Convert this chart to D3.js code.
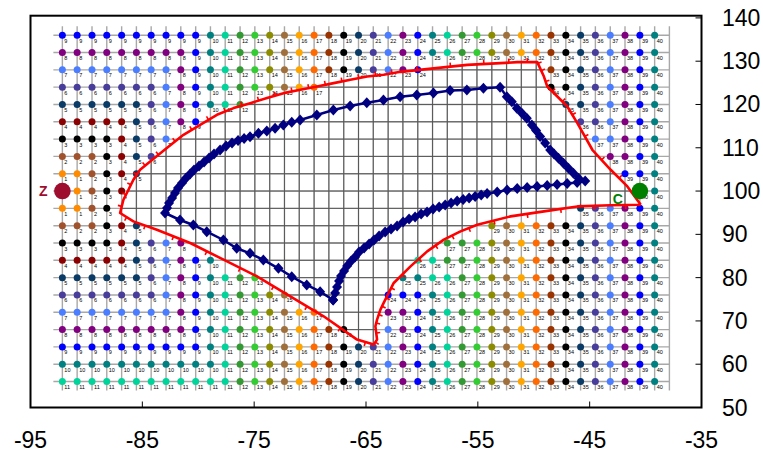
<!DOCTYPE html>
<html>
<head>
<meta charset="utf-8">
<script src="https://cdn.jsdelivr.net/npm/d3@7"></script>
<style>
  body { margin: 0; background: #fff; }
  svg { display: block; }
  text { font-family: "Liberation Sans", Arial, sans-serif; }
</style>
</head>
<body>
<div id="chart"></div>
<script>
const width = 763;
const height = 455;

const xTicks = [-95, -85, -75, -65, -55, -45, -35];
const yTicks = [50, 60, 70, 80, 90, 100, 110, 120, 130, 140];

// grid columns (lon) and rows (lat) of the labelled points
const gridLons = [-92.15, -90.83, -89.50, -88.18, -86.85, -85.53, -84.21, -82.88, -81.56, -80.23,
  -78.91, -77.59, -76.26, -74.94, -73.61, -72.29, -70.97, -69.64, -68.32, -66.99,
  -65.67, -64.35, -63.02, -61.70, -60.37, -59.05, -57.73, -56.40, -55.08, -53.75,
  -52.43, -51.11, -49.78, -48.46, -47.13, -45.81, -44.49, -43.16, -41.84, -40.51, -39.19];
const gridLineLons = gridLons.concat([-37.87]);
const gridLats = [136, 132, 128, 124, 120, 116, 112, 108, 104, 100, 96, 92, 88, 84, 80, 76, 72, 68, 64, 60, 56];

// label of every point, one string per row, "." = no point
const labelRows = [
  "9 9 9 9 9 9 9 9 9 9 10 11 12 13 14 15 16 17 18 19 20 21 22 23 24 25 26 27 28 29 30 31 32 33 34 35 36 37 38 39 40",
  "8 8 8 8 8 8 8 8 8 9 10 11 12 13 14 15 16 17 18 19 20 21 22 23 24 25 26 27 28 29 30 31 32 33 34 35 36 37 38 39 40",
  "7 7 7 7 7 7 7 7 8 9 10 11 12 13 14 15 16 17 18 19 20 21 22 23 24 . . . . . . . . 33 34 35 36 37 38 39 40",
  "6 6 6 6 6 6 6 7 8 9 10 11 12 13 14 15 16 17 . . . . . . . . . . . . . . . 34 34 35 36 37 38 39 40",
  "5 5 5 5 5 5 6 7 8 9 10 11 12 . . . . . . . . . . . . . . . . . . . . . 35 35 36 37 38 39 40",
  "4 4 4 4 4 5 6 7 8 9 . . . . . . . . . . . . . . . . . . . . . . . . . 36 36 37 38 39 40",
  "3 3 3 3 4 5 6 7 . . . . . . . . . . . . . . . . . . . . . . . . . . . . 37 37 38 39 40",
  "2 2 2 3 4 5 6 . . . . . . . . . . . . . . . . . . . . . . . . . . . . . . 38 38 39 40",
  "1 1 2 3 4 5 . . . . . . . . . . . . . . . . . . . . . . . . . . . . . . . . 39 39 40",
  ". 1 2 3 4 . . . . . . . . . . . . . . . . . . . . . . . . . . . . . . . . . . 40 40",
  "1 1 2 3 . . . . . . . . . . . . . . . . . . . . . . . . . . . . . . . 35 36 37 38 39 40",
  "2 2 2 3 4 5 . . . . . . . . . . . . . . . . . . . . . . . 29 30 31 32 33 34 35 36 37 38 39 40",
  "3 3 3 3 4 5 6 7 8 . . . . . . . . . . . . . . . . . 27 27 28 29 30 31 32 33 34 35 36 37 38 39 40",
  "4 4 4 4 4 5 6 7 8 9 10 . . . . . . . . . . . . . 26 26 27 27 28 29 30 31 32 33 34 35 36 37 38 39 40",
  "5 5 5 5 5 5 6 7 8 9 10 11 12 13 . . . . . . . . . 25 25 26 26 27 28 29 30 31 32 33 34 35 36 37 38 39 40",
  "6 6 6 6 6 6 6 7 8 9 10 11 12 13 14 15 . . . . . . 24 24 24 25 26 27 28 29 30 31 32 33 34 35 36 37 38 39 40",
  "7 7 7 7 7 7 7 7 8 9 10 11 12 13 14 15 16 17 . . . . 23 23 24 25 26 27 28 29 30 31 32 33 34 35 36 37 38 39 40",
  "8 8 8 8 8 8 8 8 8 9 10 11 12 13 14 15 16 17 18 19 . . 22 23 24 25 26 27 28 29 30 31 32 33 34 35 36 37 38 39 40",
  "9 9 9 9 9 9 9 9 9 9 10 11 12 13 14 15 16 17 18 19 20 21 22 23 24 25 26 27 28 29 30 31 32 33 34 35 36 37 38 39 40",
  "10 10 10 10 10 10 10 10 10 10 10 11 12 13 14 15 16 17 18 19 20 21 22 23 24 25 26 27 28 29 30 31 32 33 34 35 36 37 38 39 40",
  "11 11 11 11 11 11 11 11 11 11 11 11 12 13 14 15 16 17 18 19 20 21 22 23 24 25 26 27 28 29 30 31 32 33 34 35 36 37 38 39 40"
];

// colour of each label value (index = label)
const labelColors = ["#ffffff",
  "#ff8c00", "#a0522d", "#000000", "#8b0000", "#0a3a66", "#483d9b", "#4a7dff", "#800080", "#0000ff", "#008080",
  "#00d49a", "#339933", "#33cc33", "#8c8c00", "#a0703c", "#ffa500", "#ff6a00", "#993300", "#000000", "#0a3a66",
  "#483d9b", "#4a7dff", "#800080", "#0000ff", "#008080", "#00d49a", "#339933", "#33cc33", "#8c8c00", "#a0703c",
  "#ffa500", "#ff6a00", "#993300", "#000000", "#0a3a66", "#483d9b", "#4a7dff", "#800080", "#0000ff", "#008080"];

const zPoint = [-92.15, 100];
const cPoint = [-40.51, 100];

const redBoundary = [
  [-40.43, 96.84], [-41.63, 101.07], [-43.12, 104.92], [-44.76, 109.54], [-46.10, 115.70],
  [-47.00, 119.53], [-47.89, 121.84], [-48.79, 124.15], [-49.09, 126.45], [-49.57, 129.15],
  [-49.68, 129.78], [-51.47, 129.78], [-52.97, 129.55], [-55.95, 129.15], [-58.94, 128.35],
  [-61.92, 127.54], [-63.42, 126.85], [-64.90, 126.45], [-66.40, 125.69], [-67.89, 124.93],
  [-69.38, 124.15], [-70.87, 123.38], [-72.37, 122.62], [-73.85, 121.47], [-75.35, 120.31],
  [-76.84, 119.16], [-78.33, 117.61], [-79.83, 115.31], [-81.32, 113.00], [-82.81, 109.93],
  [-84.30, 106.84], [-85.20, 104.92], [-85.80, 102.61], [-86.24, 100.30], [-86.69, 98.00],
  [-86.99, 94.93], [-85.80, 93.00], [-83.70, 91.07], [-80.72, 88.00], [-77.74, 84.15],
  [-74.75, 80.30], [-71.77, 75.68], [-68.79, 71.07], [-65.80, 65.69], [-64.31, 64.53],
  [-64.01, 65.69], [-64.16, 68.76], [-64.01, 70.30], [-63.71, 72.61], [-63.42, 74.16],
  [-62.97, 76.46], [-62.52, 78.77], [-61.02, 82.60], [-59.53, 86.06], [-58.04, 88.77],
  [-56.55, 90.68], [-55.05, 92.23], [-52.07, 94.15], [-49.09, 95.30], [-46.10, 96.45],
  [-43.12, 96.73], [-40.43, 96.84]
];

const bluePath = [
  [-67.94, 74.84], [-67.76, 76.45], [-67.59, 77.84], [-67.41, 79.22], [-67.23, 80.38],
  [-66.96, 81.53], [-66.69, 82.69], [-66.33, 83.84], [-65.98, 84.77], [-65.62, 85.92],
  [-65.17, 86.85], [-64.72, 87.77], [-64.28, 88.70], [-63.83, 89.62], [-63.29, 90.54],
  [-62.76, 91.24], [-62.22, 91.93], [-61.68, 92.85], [-61.15, 93.55], [-60.61, 94.01],
  [-60.07, 94.70], [-59.54, 95.16], [-59.00, 95.86], [-58.46, 96.32], [-57.92, 96.78],
  [-57.39, 97.24], [-56.85, 97.70], [-56.31, 98.05], [-55.78, 98.40], [-55.24, 98.74],
  [-54.70, 99.09], [-54.17, 99.43], [-53.27, 99.78], [-52.38, 100.24], [-51.48, 100.59],
  [-50.59, 100.82], [-49.70, 101.05], [-48.80, 101.28], [-47.91, 101.51], [-47.01, 101.75],
  [-46.12, 101.98], [-45.40, 102.32], [-46.00, 102.95], [-46.45, 104.09], [-46.90, 105.26],
  [-47.34, 106.41], [-47.79, 107.56], [-48.18, 108.56], [-48.53, 109.49], [-48.98, 111.10],
  [-49.43, 112.61], [-49.79, 113.99], [-50.17, 115.26], [-50.62, 116.81], [-51.06, 117.96],
  [-51.51, 119.12], [-51.96, 120.64], [-52.41, 121.80], [-53.01, 123.97], [-54.50, 123.74],
  [-55.98, 123.35], [-57.48, 123.23], [-58.97, 122.65], [-60.46, 122.19], [-61.95, 121.80],
  [-63.44, 121.03], [-64.93, 120.41], [-66.42, 119.65], [-67.92, 118.73], [-69.40, 117.57],
  [-70.89, 116.41], [-71.64, 115.88], [-72.39, 115.26], [-73.13, 114.50], [-73.87, 113.87],
  [-74.62, 113.34], [-75.37, 112.56], [-75.90, 112.14], [-76.44, 111.68], [-76.98, 111.10],
  [-77.51, 110.41], [-78.05, 109.49], [-78.59, 108.56], [-79.03, 107.64], [-79.48, 106.72],
  [-79.93, 105.79], [-80.38, 104.87], [-80.73, 103.94], [-81.09, 103.02], [-81.45, 101.86],
  [-81.81, 100.71], [-82.08, 99.55], [-82.34, 98.40], [-82.61, 97.24], [-82.79, 96.09],
  [-82.97, 94.93], [-81.63, 93.32], [-80.44, 92.16], [-79.24, 90.62], [-77.75, 88.70],
  [-76.56, 86.78], [-75.37, 85.62], [-74.18, 84.08], [-72.83, 82.16], [-71.64, 80.22],
  [-70.30, 78.30], [-69.10, 76.75], [-67.94, 74.84]
];

const svg = d3
  .select("#chart")
  .append("svg")
  .attr("width", width)
  .attr("height", height);

const x = d3.scaleLinear().domain([-95, -35]).range([30.5, 701.5]);
const y = d3.scaleLinear().domain([50, 140]).range([407.5, 17.9]);
const line = d3.line().x((d) => x(d[0])).y((d) => y(d[1]));

// clip for the darker grid inside the red boundary
svg.append("clipPath")
  .attr("id", "inside")
  .append("path")
  .attr("d", line(redBoundary) + "Z");

// grid of thin lines
const gridTop = y(gridLats[0]) - 9;
const gridBottom = y(gridLats[gridLats.length - 1]) + 9;
const gridLeft = x(gridLons[0]) - 9;
const gridRight = x(gridLineLons[gridLineLons.length - 1]);

function drawGrid(g, color, w) {
  g.append("g")
    .selectAll("line")
    .data(gridLineLons)
    .join("line")
    .attr("x1", (d) => x(d))
    .attr("x2", (d) => x(d))
    .attr("y1", gridTop)
    .attr("y2", gridBottom)
    .attr("stroke", color)
    .attr("stroke-width", w);

  g.append("g")
    .selectAll("line")
    .data(gridLats)
    .join("line")
    .attr("x1", gridLeft)
    .attr("x2", gridRight)
    .attr("y1", (d) => y(d))
    .attr("y2", (d) => y(d))
    .attr("stroke", color)
    .attr("stroke-width", w);
}
drawGrid(svg.append("g"), "#a8a8a8", 1.4);
drawGrid(svg.append("g").attr("clip-path", "url(#inside)"), "#505050", 0.9);

// labelled points
const points = [];
labelRows.forEach((row, r) => {
  row.split(" ").forEach((v, c) => {
    if (v !== ".") points.push({ lon: gridLons[c], lat: gridLats[r], label: +v });
  });
});

svg.append("g")
  .selectAll("circle")
  .data(points)
  .join("circle")
  .attr("cx", (d) => x(d.lon))
  .attr("cy", (d) => y(d.lat))
  .attr("r", 3.5)
  .attr("fill", (d) => labelColors[d.label]);

svg.append("g")
  .selectAll("text")
  .data(points)
  .join("text")
  .attr("x", (d) => x(d.lon) + 2)
  .attr("y", (d) => y(d.lat) + 7.5)
  .attr("font-size", 5.5)
  .attr("fill", "#000")
  .text((d) => d.label);

// red boundary with small outward ticks
svg.append("path")
  .attr("d", line(redBoundary))
  .attr("fill", "none")
  .attr("stroke", "#ff0000")
  .attr("stroke-width", 2.6)
  .attr("stroke-linejoin", "round");

const ticks = redBoundary.slice(1).map((p, i) => {
  const a = redBoundary[i];
  const dx = x(p[0]) - x(a[0]);
  const dy = y(p[1]) - y(a[1]);
  const len = Math.hypot(dx, dy) || 1;
  const mx = (x(p[0]) + x(a[0])) / 2;
  const my = (y(p[1]) + y(a[1])) / 2;
  return { mx, my, nx: -dy / len, ny: dx / len };
});
svg.append("g")
  .selectAll("line")
  .data(ticks)
  .join("line")
  .attr("x1", (d) => d.mx)
  .attr("y1", (d) => d.my)
  .attr("x2", (d) => d.mx + d.nx * 4)
  .attr("y2", (d) => d.my + d.ny * 4)
  .attr("stroke", "#ff0000")
  .attr("stroke-width", 1.6);

// navy diamond path
svg.append("path")
  .attr("d", line(bluePath))
  .attr("fill", "none")
  .attr("stroke", "#000080")
  .attr("stroke-width", 2.5);

svg.append("g")
  .selectAll("path")
  .data(bluePath)
  .join("path")
  .attr("transform", (d) => `translate(${x(d[0])},${y(d[1])})`)
  .attr("d", "M0,-5.5L5,0L0,5.5L-5,0Z")
  .attr("fill", "#000080");

// Z and C markers
svg.append("circle")
  .attr("cx", x(zPoint[0]))
  .attr("cy", y(zPoint[1]))
  .attr("r", 8.3)
  .attr("fill", "#9e0c2e");
svg.append("text")
  .attr("x", x(zPoint[0]) - 19)
  .attr("y", y(zPoint[1]) + 5)
  .attr("text-anchor", "middle")
  .attr("font-size", 14)
  .attr("font-weight", "bold")
  .attr("fill", "#9e0c2e")
  .text("Z");

svg.append("circle")
  .attr("cx", x(cPoint[0]))
  .attr("cy", y(cPoint[1]))
  .attr("r", 8.3)
  .attr("fill", "#008000");
svg.append("text")
  .attr("x", x(cPoint[0]) - 22)
  .attr("y", y(cPoint[1]) + 13)
  .attr("text-anchor", "middle")
  .attr("font-size", 14)
  .attr("font-weight", "bold")
  .attr("fill", "#008000")
  .text("C");

// frame
svg.append("rect")
  .attr("x", 30.5)
  .attr("y", 15.7)
  .attr("width", 671)
  .attr("height", 391.8)
  .attr("fill", "none")
  .attr("stroke", "#000")
  .attr("stroke-width", 2);

// axes: ticks inside the frame
svg.append("g")
  .selectAll("line")
  .data(xTicks)
  .join("line")
  .attr("x1", (d) => x(d))
  .attr("x2", (d) => x(d))
  .attr("y1", 407.5)
  .attr("y2", 401.5)
  .attr("stroke", "#000")
  .attr("stroke-width", 1);

svg.append("g")
  .selectAll("text")
  .data(xTicks)
  .join("text")
  .attr("x", (d) => x(d))
  .attr("y", 448)
  .attr("text-anchor", "middle")
  .attr("font-size", 23)
  .attr("fill", "#000")
  .text((d) => d);

svg.append("g")
  .selectAll("line")
  .data(yTicks)
  .join("line")
  .attr("x1", 701.5)
  .attr("x2", 695.5)
  .attr("y1", (d) => y(d))
  .attr("y2", (d) => y(d))
  .attr("stroke", "#000")
  .attr("stroke-width", 1);

svg.append("g")
  .selectAll("text")
  .data(yTicks)
  .join("text")
  .attr("x", 722)
  .attr("y", (d) => y(d) + 8)
  .attr("font-size", 23)
  .attr("fill", "#000")
  .text((d) => d);
</script>
</body>
</html>
